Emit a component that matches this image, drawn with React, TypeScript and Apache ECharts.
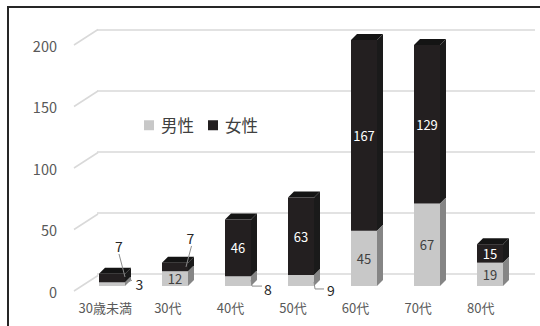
import React, { useEffect, useRef } from "react";
import * as echarts from "echarts";

const categories = ["30歳未満", "30代", "40代", "50代", "60代", "70代", "80代"];
const male = [3, 12, 8, 9, 45, 67, 19];
const female = [7, 7, 46, 63, 167, 129, 15];
const seriesNames = ["男性", "女性"];
const yTicks = [0, 50, 100, 150, 200];

const Y_MAX = 200;
const FONT = "'Noto Sans CJK JP', 'Noto Sans', sans-serif";

// label callouts (style: offsets from the segment's front-face center)
const callouts: Record<string, { t: number[]; line: number[][] }> = {
  "f0": { t: [7, -32], line: [[7, -24], [13, -1]] },
  "m0": { t: [27.5, 0], line: [[13, -1], [20, -4]] },
  "f1": { t: [15.5, -29], line: [[16.5, -21], [11, 0]] },
  "m2": { t: [30, 7.5], line: [[13, -1], [14, 5], [24, 5]] },
  "m3": { t: [30, 9.5], line: [[13, 1.5], [14, 8.5], [23, 8.5]] },
};

const DEPTH = [6, -6];
const BAR_W = 26;

function box(x0: number, x1: number, yTop: number, yBot: number, c: { front: string; side: string; top: string }) {
  const [dx, dy] = DEPTH;
  return [
    { type: "polygon", shape: { points: [[x1, yBot], [x1 + dx, yBot + dy], [x1 + dx, yTop + dy], [x1, yTop]] }, style: { fill: c.side } },
    { type: "polygon", shape: { points: [[x0, yTop], [x0 + dx, yTop + dy], [x1 + dx, yTop + dy], [x1, yTop]] }, style: { fill: c.top } },
    { type: "rect", shape: { x: x0, y: yTop, width: x1 - x0, height: yBot - yTop }, style: { fill: c.front } },
  ];
}

function labelEls(key: string, value: number, cx: number, cy: number, inner: string) {
  const co = callouts[key];
  if (co) {
    return [
      { type: "polyline", shape: { points: co.line.map((p) => [cx + p[0], cy + p[1]]) }, style: { stroke: "#8c8c8c", lineWidth: 1, fill: null } },
      { type: "text", x: cx + co.t[0], y: cy + co.t[1], style: { text: String(value), fill: "#262626", fontSize: 14, fontFamily: FONT, align: "center", verticalAlign: "middle" } },
    ];
  }
  return [
    { type: "text", x: cx, y: cy, style: { text: String(value), fill: inner, fontSize: 13, fontFamily: FONT, align: "center", verticalAlign: "middle" } },
  ];
}

export default function App() {
  const ref = useRef<HTMLDivElement>(null);
  useEffect(() => {
    if (!ref.current) return;
    const chart = echarts.init(ref.current, null, { renderer: "svg" });
    const axisCommon = { type: "value", min: 0, max: Y_MAX, interval: 50 };
    chart.setOption({
      animation: false,
      backgroundColor: "#ffffff",
      legend: {
        data: seriesNames,
        left: 139,
        top: 112,
        icon: "rect",
        itemWidth: 10,
        itemHeight: 10,
        itemGap: 14,
        textStyle: { fontSize: 16.5, color: "#404040", fontFamily: FONT, padding: [0, 0, 0, 2] },
      },
      grid: [
        { left: 74, right: 28, top: 45, bottom: 35 }, // front plane (labels)
        { left: 97, right: 5, top: 29.5, bottom: 52 }, // back wall
        { left: 80.5, right: 18.5, top: 40, bottom: 40 }, // bars plane
      ],
      xAxis: [
        {
          type: "category", gridIndex: 0, data: categories,
          axisLine: { show: false }, axisTick: { show: false },
          axisLabel: { interval: 0, fontSize: 13, color: "#595959", fontFamily: FONT, margin: 10 },
        },
        { type: "category", gridIndex: 1, data: categories, show: false },
        { type: "category", gridIndex: 2, data: categories, show: false },
      ],
      yAxis: [
        {
          ...axisCommon, gridIndex: 0,
          axisLine: { show: false }, axisTick: { show: false }, splitLine: { show: false },
          axisLabel: { fontSize: 14.5, color: "#595959", fontFamily: FONT, margin: 17 },
        },
        {
          ...axisCommon, gridIndex: 1,
          axisLine: { show: false }, axisTick: { show: false }, axisLabel: { show: false },
          splitLine: { show: true, lineStyle: { color: "#d9d9d9", width: 1.5 } },
        },
        { ...axisCommon, gridIndex: 2, show: false },
      ],
      graphic: [
        { type: "rect", shape: { x: 8, y: 7, width: 560, height: 340 }, style: { fill: "none", stroke: "#262626", lineWidth: 2 }, silent: true },
      ],
      series: [
        {
          type: "custom",
          name: "walls",
          xAxisIndex: 0,
          yAxisIndex: 0,
          silent: true,
          data: yTicks.map((v) => [0, v]),
          renderItem: (params: any, api: any) => {
            const p = api.coord([0, api.value(1)]);
            const half = api.size([1, 0])[0] / 2;
            const x = p[0] - half;
            return {
              type: "line",
              shape: { x1: x, y1: p[1], x2: x + 24, y2: p[1] - 15.5 },
              style: { stroke: "#d9d9d9", lineWidth: 1.5 },
            };
          },
          z: 1,
        },
        {
          type: "custom",
          name: seriesNames[0],
          xAxisIndex: 2,
          yAxisIndex: 2,
          itemStyle: { color: "#c8c8c8" },
          data: male.map((v, i) => [i, v]),
          encode: { x: 0, y: 1 },
          renderItem: (params: any, api: any) => {
            const i = api.value(0);
            const v = api.value(1);
            const base = api.coord([i, 0]);
            const topP = api.coord([i, Math.min(v, Y_MAX)]);
            const cx = base[0];
            const x0 = cx - BAR_W / 2;
            const x1 = cx + BAR_W / 2;
            const els: any[] = box(x0, x1, topP[1], base[1], { front: "#c8c8c8", side: "#858585", top: "#dcdcdc" });
            els.push(...labelEls("m" + i, v, cx, (topP[1] + base[1]) / 2, "#404040"));
            return { type: "group", children: els };
          },
          z: 3,
        },
        {
          type: "custom",
          name: seriesNames[1],
          xAxisIndex: 2,
          yAxisIndex: 2,
          itemStyle: { color: "#231f20" },
          data: female.map((v, i) => [i, male[i], v]),
          encode: { x: 0, y: 2 },
          renderItem: (params: any, api: any) => {
            const i = api.value(0);
            const m = api.value(1);
            const v = api.value(2);
            const botP = api.coord([i, Math.min(m, Y_MAX)]);
            const topP = api.coord([i, Math.min(m + v, Y_MAX)]);
            const cx = botP[0];
            const x0 = cx - BAR_W / 2;
            const x1 = cx + BAR_W / 2;
            const els: any[] = box(x0, x1, topP[1], botP[1], { front: "#231f20", side: "#1a1a1a", top: "#141414" });
            els.push(...labelEls("f" + i, v, cx, (topP[1] + botP[1]) / 2, "#ffffff"));
            return { type: "group", children: els };
          },
          z: 4,
        },
      ],
    });
    return () => chart.dispose();
  }, []);
  return <div ref={ref} style={{ position: "fixed", left: 0, top: 0, width: 540, height: 326 }} />;
}
